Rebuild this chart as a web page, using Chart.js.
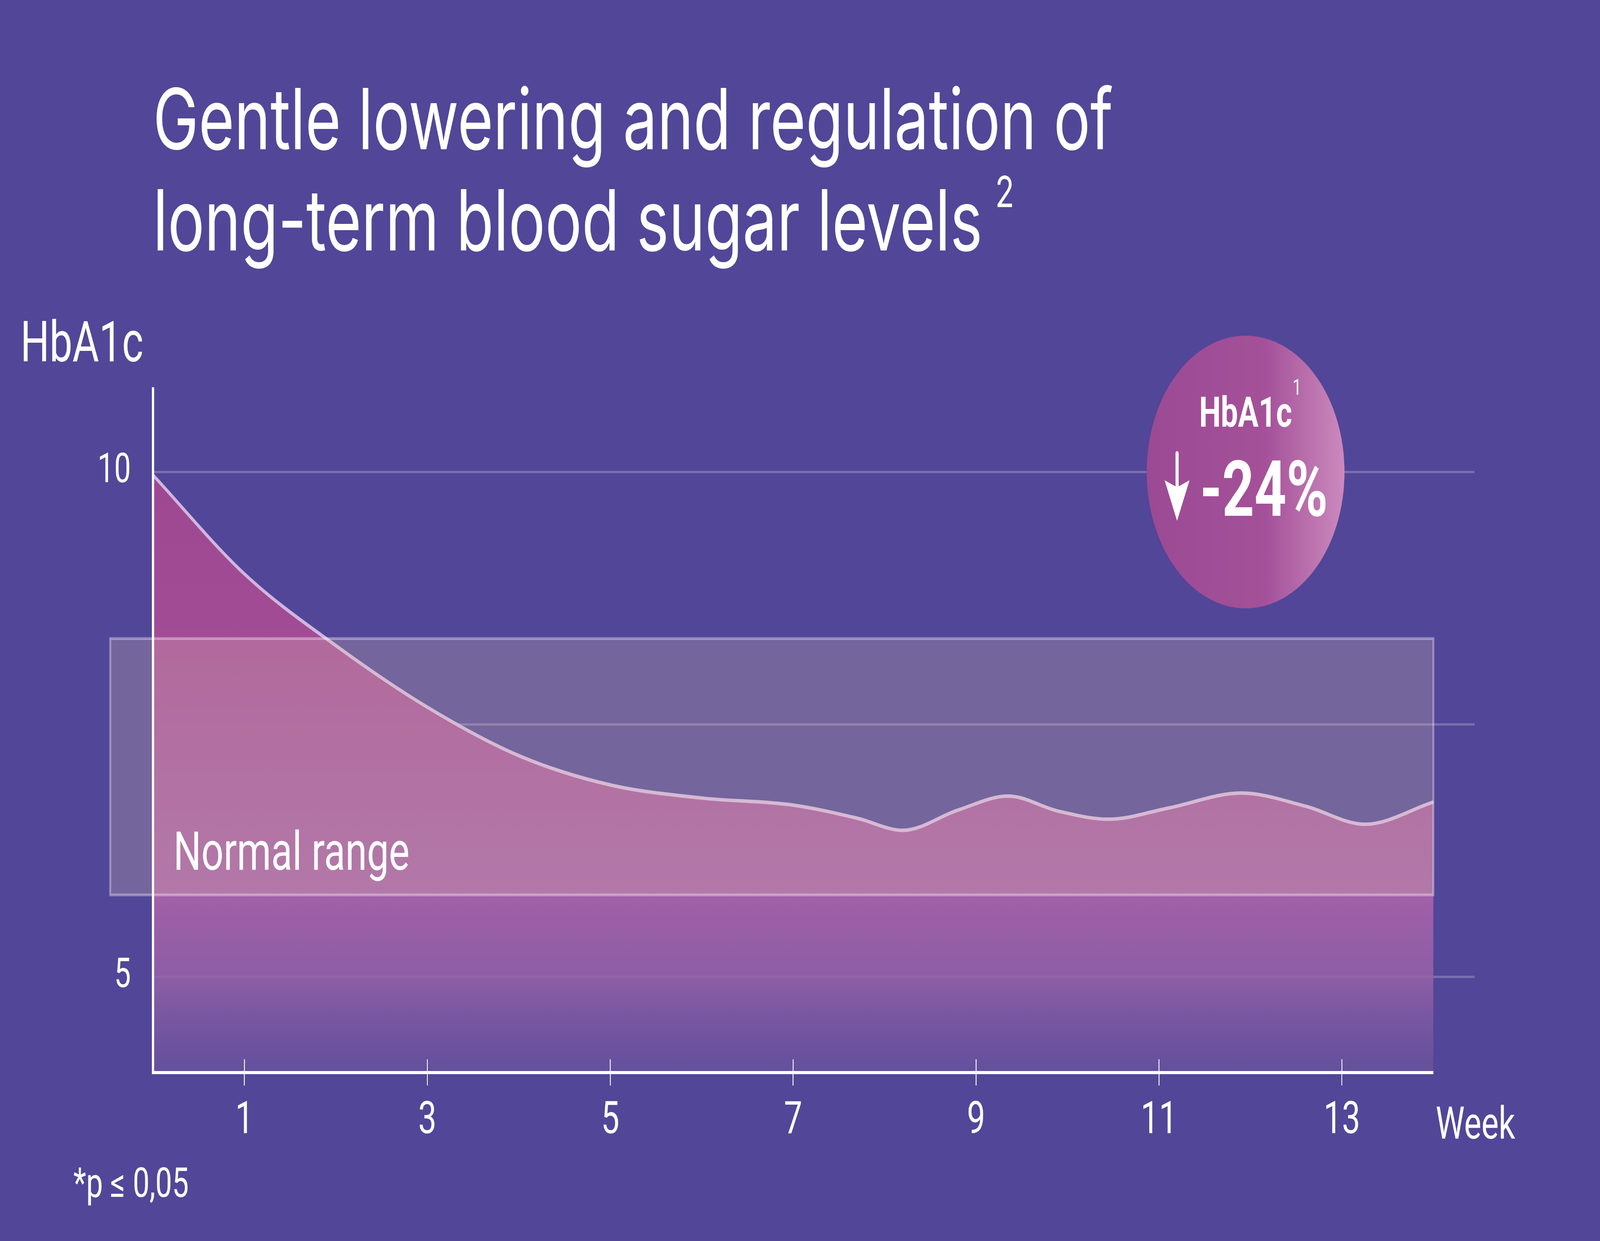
<!DOCTYPE html>
<html>
<head>
<meta charset="utf-8">
<script src="https://cdn.jsdelivr.net/npm/chart.js@4.4.0/dist/chart.umd.min.js"></script>
<style>
    html, body { margin: 0; padding: 0; width: 100%; height: 100%; overflow: hidden; background: #524698; }
    #wrap { position: absolute; left: 0; top: 0; width: 5648px; height: 3176px; transform-origin: 0 0; }
</style>
</head>
<body>
<div id="wrap"><canvas id="hba1cChart" width="5648" height="3176"></canvas></div>
<script>
// Dados
const weeks = [0, 1, 2, 3, 4, 5, 6, 7, 7.7, 8.2, 8.8, 9.35, 9.9, 10.45, 11.1, 11.9, 12.6, 13.25, 14];
const hba1cValues = [9.97, 8.99, 8.28, 7.67, 7.19, 6.90, 6.77, 6.70, 6.57, 6.45, 6.65, 6.79, 6.64, 6.56, 6.67, 6.82, 6.69, 6.51, 6.73];
const xTickWeeks = [1, 3, 5, 7, 9, 11, 13];
const yTickValues = [5, 7.5, 10];
const yTickLabels = ['5', '', '10'];
const normalRange = [5.81, 8.35];
const titleLines = ['Gentle lowering and regulation of', 'long-term blood sugar levels'];
const badgeLabel = 'HbA1c';
const badgeValue = '-24%';

const BG = '#524698';
const WHITE = '#ffffff';

// a janela real pode ser menor que 5648x3176: ajusta a página à janela
const wrap = document.getElementById('wrap');
wrap.style.transform = 'scale(' + (window.innerWidth / 5648) + ',' + (window.innerHeight / 3176) + ')';

// gradiente da área sob a curva
function areaGradient(context) {
    const chart = context.chart;
    const area = chart.chartArea;
    if (!area) return 'rgba(160,74,148,0.9)';
    const y = chart.scales.y;
    const top = y.getPixelForValue(10);
    const span = area.bottom - top;
    const pos = v => Math.min(1, Math.max(0, (y.getPixelForValue(v) - top) / span));
    const g = chart.ctx.createLinearGradient(0, top, 0, area.bottom);
    g.addColorStop(0, 'rgb(158,72,146)');
    g.addColorStop(pos(normalRange[1]), 'rgb(162,76,150)');
    g.addColorStop(pos(normalRange[0]), 'rgba(166,97,168,0.96)');
    g.addColorStop(pos(5), 'rgba(150,98,168,0.86)');
    g.addColorStop(1, 'rgba(115,88,160,0.55)');
    return g;
}

const decorPlugin = {
    id: 'decor',
    beforeDraw(chart) {
        const ctx = chart.ctx;
        ctx.save();
        ctx.fillStyle = BG;
        ctx.fillRect(0, 0, chart.width, chart.height);
        ctx.restore();
    },
    afterDatasetsDraw(chart) {
        const ctx = chart.ctx;
        const area = chart.chartArea;
        const x = chart.scales.x;
        const y = chart.scales.y;
        const right = x.getPixelForValue(14);

        // faixa normal
        const top = y.getPixelForValue(normalRange[1]);
        const bottom = y.getPixelForValue(normalRange[0]);
        const left = area.left - 151;
        ctx.save();
        ctx.fillStyle = 'rgba(230,200,175,0.24)';
        ctx.fillRect(left, top, right - left, bottom - top);
        ctx.strokeStyle = 'rgba(255,255,255,0.35)';
        ctx.lineWidth = 7;
        ctx.strokeRect(left, top, right - left, bottom - top);

        // eixos
        ctx.strokeStyle = WHITE;
        ctx.lineWidth = 8;
        ctx.beginPath();
        ctx.moveTo(area.left, area.top);
        ctx.lineTo(area.left, area.bottom);
        ctx.moveTo(area.left - 4, area.bottom);
        ctx.lineTo(right, area.bottom);
        ctx.stroke();

        // marcas dos ticks (parte interna)
        ctx.lineWidth = 3;
        ctx.beginPath();
        xTickWeeks.forEach(w => {
            const px = x.getPixelForValue(w);
            ctx.moveTo(px, area.bottom - 34);
            ctx.lineTo(px, area.bottom);
        });
        ctx.stroke();
        ctx.restore();
    },
    afterDraw(chart) {
        const ctx = chart.ctx;
        ctx.save();
        ctx.fillStyle = WHITE;
        ctx.textBaseline = 'alphabetic';
        ctx.textAlign = 'left';

        // título
        ctx.font = '400 216px Inter';
        ctx.fillText(titleLines[0], 540, 382);
        ctx.fillText(titleLines[1], 540, 641);
        const w2 = ctx.measureText(titleLines[1]).width;
        ctx.font = '400 110px Inter';
        ctx.fillText('2', 540 + w2 + 45, 530);

        // rótulos dos eixos
        ctx.font = '400 144px Roboto';
        ctx.fillText('HbA1c', 72, 925);
        ctx.font = '400 115px Roboto';
        ctx.fillText('Week', 5068, 2914);

        ctx.font = '400 138px Roboto';
        ctx.fillText('Normal range', 612, 2226);

        ctx.font = '400 105px Roboto';
        ctx.fillText('*p \u2264 0,05', 259, 3063);

        // selo
        const cx = 4397, cy = 1208, r = 349;
        const g = ctx.createLinearGradient(cx - r, 0, cx + r, 0);
        g.addColorStop(0, '#9b4a94');
        g.addColorStop(0.6, '#a45199');
        g.addColorStop(1, '#cc8abd');
        ctx.fillStyle = g;
        ctx.beginPath();
        ctx.arc(cx, cy, r, 0, Math.PI * 2);
        ctx.fill();

        ctx.fillStyle = WHITE;
        ctx.font = 'bold 108px Roboto';
        ctx.textAlign = 'center';
        ctx.fillText(badgeLabel, cx, 1092);
        ctx.font = '400 55px Roboto';
        ctx.textAlign = 'left';
        ctx.fillText('1', 4563, 1010);
        ctx.font = 'bold 198px Roboto';
        ctx.fillText(badgeValue, 4236, 1320);

        // seta
        ctx.strokeStyle = WHITE;
        ctx.lineWidth = 11;
        ctx.lineCap = 'round';
        ctx.beginPath();
        ctx.moveTo(4155, 1160);
        ctx.lineTo(4155, 1250);
        ctx.stroke();
        ctx.beginPath();
        ctx.moveTo(4111, 1229);
        ctx.lineTo(4155, 1247);
        ctx.lineTo(4199, 1229);
        ctx.lineTo(4155, 1333);
        ctx.closePath();
        ctx.fill();
        ctx.restore();
    }
};

const ctx = document.getElementById('hba1cChart').getContext('2d');
new Chart(ctx, {
    type: 'line',
    data: {
        datasets: [{
            data: weeks.map((w, i) => ({ x: w, y: hba1cValues[i] })),
            borderColor: 'rgba(214,188,228,0.95)',
            borderWidth: 9,
            pointRadius: 0,
            fill: 'start',
            backgroundColor: areaGradient,
            cubicInterpolationMode: 'monotone'
        }]
    },
    options: {
        responsive: false,
        devicePixelRatio: 1,
        animation: false,
        layout: { padding: { top: 991, right: 443, left: 0, bottom: 0 } },
        scales: {
            x: {
                type: 'linear',
                min: 0,
                max: 14.45,
                afterBuildTicks: scale => { scale.ticks = xTickWeeks.map(v => ({ value: v })); },
                afterFit: scale => { scale.height = 431; },
                grid: {
                    drawOnChartArea: false,
                    drawTicks: true,
                    tickLength: 33,
                    color: WHITE,
                    lineWidth: 3
                },
                border: { display: false },
                ticks: {
                    color: WHITE,
                    font: { family: 'Roboto', size: 115 },
                    padding: 24,
                    maxRotation: 0
                }
            },
            y: {
                min: 4.05,
                max: 10.84,
                afterBuildTicks: scale => { scale.ticks = yTickValues.map(v => ({ value: v })); },
                afterFit: scale => { scale.width = 540; },
                grid: {
                    color: 'rgba(255,255,255,0.22)',
                    lineWidth: 6,
                    drawTicks: false
                },
                border: { display: false },
                ticks: {
                    color: WHITE,
                    font: { family: 'Roboto', size: 105 },
                    padding: 78,
                    callback: (value, index) => yTickLabels[index]
                }
            }
        },
        plugins: {
            legend: { display: false },
            tooltip: { enabled: false },
            title: { display: false }
        }
    },
    plugins: [decorPlugin]
});
</script>
</body>
</html>
